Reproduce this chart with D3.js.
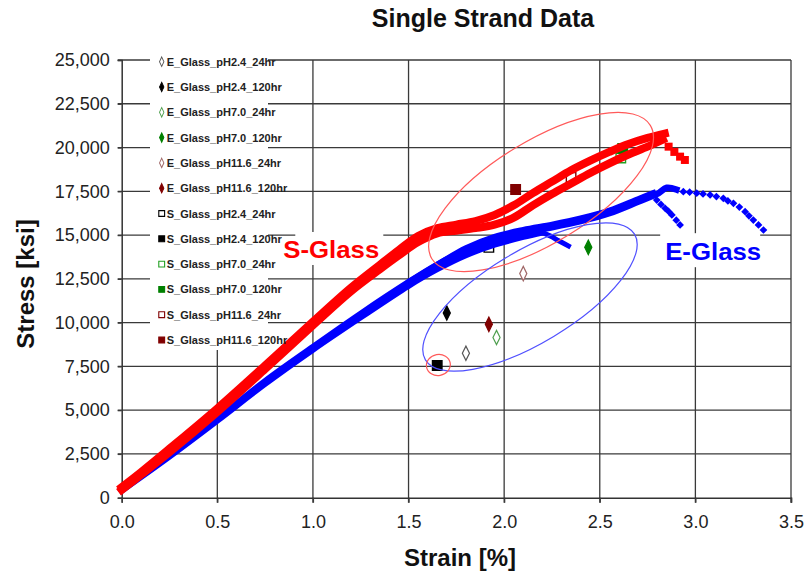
<!DOCTYPE html>
<html>
<head>
<meta charset="utf-8">
<script src="https://cdn.jsdelivr.net/npm/d3@7"></script>
<style>
  body { margin: 0; background: #fff; }
  text { font-family: "Liberation Sans", Arial, sans-serif; }
</style>
</head>
<body>
<svg id="chart" width="807" height="578"></svg>
<script>
// ---- axis ticks ----
const strainTicks = [0, 0.5, 1.0, 1.5, 2.0, 2.5, 3.0, 3.5];
const stressTicks = [0, 2500, 5000, 7500, 10000, 12500, 15000, 17500, 20000, 22500, 25000];

// ---- S-Glass stress/strain curves [strain %, stress ksi] ----
const sGlassA = [[0,600],[0.1,1450],[0.25,2800],[0.5,5100],[0.75,7550],[1.0,10050],[1.2,12000],
  [1.35,13300],[1.45,14150],[1.55,14950],[1.65,15400],[1.75,15600],[1.85,15800],[1.95,16150],
  [2.05,16700],[2.15,17400],[2.25,18050],[2.35,18700],[2.45,19250],[2.55,19750],[2.65,20200],
  [2.75,20550],[2.84,20800]];
const sGlassB = [[0,450],[0.1,1300],[0.25,2600],[0.5,4900],[0.75,7350],[1.0,9850],[1.2,11800],
  [1.35,13050],[1.45,13850],[1.55,14600],[1.65,15100],[1.75,15250],[1.85,15400],[1.95,15600],
  [2.05,16000],[2.15,16700],[2.25,17350],[2.35,17950],[2.45,18550],[2.55,19100],[2.65,19600],
  [2.75,20050],[2.83,20450]];
const sGlassTail = [[2.86,20050],[2.89,19750],[2.92,19480],[2.945,19290]];

// ---- E-Glass stress/strain curves ----
const eGlassA = [[0,450],[0.1,1250],[0.25,2450],[0.5,4500],[0.75,6650],[1.0,8600],[1.25,10500],
  [1.5,12300],[1.65,13300],[1.8,14150],[1.95,14750],[2.1,15150],[2.25,15450],[2.4,15800],
  [2.55,16250],[2.7,16900],[2.8,17350],[2.85,17700],[2.9,17600]];
const eGlassATail = [[2.937,17480],[2.97,17450],[3.007,17390],[3.04,17350],[3.077,17290],[3.11,17200],
  [3.146,17100],[3.17,16950],[3.199,16815],[3.23,16600],[3.26,16335],[3.28,16100],[3.303,15860],
  [3.33,15580],[3.356,15290]];
const eGlassB = [[0,400],[0.25,2350],[0.5,4400],[0.75,6500],[1.0,8450],[1.25,10300],[1.5,12100],
  [1.65,13050],[1.8,13850],[1.95,14450],[2.1,14900],[2.2,15150]];
const eGlassBDrop = [[2.2,15150],[2.249,14910],[2.28,14700],[2.31,14530],[2.336,14380]];
const eGlassC = [[1.5,12300],[1.65,13300],[1.8,14250],[1.95,14900],[2.1,15300],[2.25,15600],
  [2.4,15950],[2.55,16400],[2.7,17050],[2.78,17400]];
const eGlassCTail = [[2.798,17000],[2.82,16750],[2.842,16530],[2.86,16350],[2.877,16150],[2.9,15850],[2.92,15580]];

// ---- conditioned single-strand tests ----
const testNames = ["E_Glass_pH2.4_24hr","E_Glass_pH2.4_120hr","E_Glass_pH7.0_24hr","E_Glass_pH7.0_120hr",
  "E_Glass_pH11.6_24hr","E_Glass_pH11.6_120hr","S_Glass_pH2.4_24hr","S_Glass_pH2.4_120hr",
  "S_Glass_pH7.0_24hr","S_Glass_pH7.0_120hr","S_Glass_pH11.6_24hr","S_Glass_pH11.6_120hr"];
const testStrain = [1.80, 1.70, 1.96, 2.44, 2.10, 1.92, 1.92, 1.65, 2.61, 2.62, 2.35, 2.06];
const testStress = [8250, 10550, 9150, 14300, 12800, 9900, 14300, 7550, 19400, 19950, 18300, 17600];
const testShape  = ["diamond","diamond","diamond","diamond","diamond","diamond",
                    "square","square","square","square","square","square"];
const testColor  = ["#555555","#000000","#4f9f4f","#008000","#a06868","#800000",
                    "#000000","#000000","#22a022","#008000","#800000","#800000"];
const testFilled = [false,true,false,true,false,true,false,true,false,true,false,true];

// ---- layout ----
const svg = d3.select("#chart");
const x = d3.scaleLinear().domain([0, 3.5]).range([121.7, 791]);
const y = d3.scaleLinear().domain([0, 25000]).range([497.7, 60]);
const [x0, x1] = x.range();
const [y0, y1] = y.range();
const gridColor = "#3a3a3a";
const blue = "#0000ff", red = "#ff0000";

// gridlines
const grid = svg.append("g");
grid.selectAll("line.h").data(stressTicks.filter(d => d > 0)).join("line")
  .attr("class", "h")
  .attr("x1", x0 - 4).attr("x2", x1)
  .attr("y1", d => y(d)).attr("y2", d => y(d))
  .attr("stroke", gridColor).attr("stroke-width", 1.3);
grid.selectAll("line.v").data(strainTicks.filter(d => d > 0)).join("line")
  .attr("class", "v")
  .attr("x1", d => x(d)).attr("x2", d => x(d))
  .attr("y1", y1).attr("y2", y0 + 5)
  .attr("stroke", gridColor).attr("stroke-width", 1.3);

// axes
const yAxis = d3.axisLeft(y).tickValues(stressTicks).tickFormat(d3.format(",")).tickSize(4).tickPadding(8);
const xAxis = d3.axisBottom(x).tickValues(strainTicks).tickFormat(d3.format(".1f")).tickSize(5).tickPadding(13);
const gy = svg.append("g").attr("transform", `translate(${x0},0)`).call(yAxis);
const gx = svg.append("g").attr("transform", `translate(0,${y0})`).call(xAxis);
[gx, gy].forEach(g => {
  g.select(".domain").attr("stroke", "#333").attr("stroke-width", 1.5);
  g.selectAll(".tick line").attr("stroke", gridColor).attr("stroke-width", 1.3);
  g.selectAll(".tick text").attr("font-size", 18).attr("fill", "#222")
    .attr("font-family", '"Liberation Sans", Arial, sans-serif');
});

// group labels: white backing boxes sit under the data, text on top
const labels = [
  { text: "S-Glass", strain: 0.845, stress: 13692, color: red, box: [12, -26, 88, 33] },
  { text: "E-Glass", strain: 2.842, stress: 13566, color: blue, box: [-5, -27, 100, 34] }
];
labels.forEach(l => {
  svg.append("rect").attr("x", x(l.strain) + l.box[0]).attr("y", y(l.stress) + l.box[1])
    .attr("width", l.box[2]).attr("height", l.box[3]).attr("fill", "#fff");
});

// symbol helpers
function symbolPath(shape, size) {
  return d3.symbol(shape === "diamond" ? d3.symbolDiamond : d3.symbolSquare, size)();
}

// test markers
svg.append("g").selectAll("path").data(testNames.map((n, i) => i)).join("path")
  .attr("d", i => testShape[i] === "diamond" ? symbolPath("diamond", 60) : symbolPath("square", 90))
  .attr("transform", i => `translate(${x(testStrain[i])},${y(testStress[i])})${testShape[i] === "diamond" ? " scale(0.85,1)" : ""}`)
  .attr("fill", i => testFilled[i] ? testColor[i] : "#fff")
  .attr("stroke", i => testColor[i]).attr("stroke-width", 1.4);

// curves
const smooth = d3.line().x(d => x(d[0])).y(d => y(d[1])).curve(d3.curveCatmullRom.alpha(0.5));
const straight = d3.line().x(d => x(d[0])).y(d => y(d[1]));
function drawCurve(data, gen, color, w) {
  svg.append("path").datum(data).attr("d", gen).attr("fill", "none")
    .attr("stroke", color).attr("stroke-width", w)
    .attr("stroke-linejoin", "round").attr("stroke-linecap", "square");
}
drawCurve(eGlassB, smooth, blue, 6);
drawCurve(eGlassBDrop, straight, blue, 5);
drawCurve(eGlassC, smooth, blue, 6);
drawCurve(eGlassA, smooth, blue, 6.5);
svg.append("g").selectAll("path").data(eGlassATail.concat(eGlassCTail)).join("path")
  .attr("d", symbolPath("square", 30))
  .attr("transform", d => `translate(${x(d[0])},${y(d[1])}) rotate(45)`)
  .attr("fill", blue);
drawCurve(sGlassB, smooth, red, 8);
drawCurve(sGlassA, smooth, red, 8);
svg.append("g").selectAll("path").data(sGlassTail).join("path")
  .attr("d", symbolPath("square", 64))
  .attr("transform", d => `translate(${x(d[0])},${y(d[1])})`)
  .attr("fill", red);

// highlight ellipses (centre in data units, radii in px)
const ellipses = [
  { strain: 2.193, stress: 17460, rx: 128, ry: 51, angle: -31.4, color: "#ff5a5a" },
  { strain: 2.135, stress: 11464, rx: 122, ry: 46, angle: -31, color: "#5050ff" },
  { strain: 1.656, stress: 7580, rx: 12, ry: 10.5, angle: -10, color: "#ff5a5a" }
];
svg.append("g").selectAll("ellipse").data(ellipses).join("ellipse")
  .attr("cx", 0).attr("cy", 0).attr("rx", d => d.rx).attr("ry", d => d.ry)
  .attr("transform", d => `translate(${x(d.strain)},${y(d.stress)}) rotate(${d.angle})`)
  .attr("fill", "none").attr("stroke", d => d.color).attr("stroke-width", 1.2);

// group label text
labels.forEach(l => {
  svg.append("text").attr("x", x(l.strain)).attr("y", y(l.stress)).text(l.text)
    .attr("font-size", 24).attr("font-weight", "bold").attr("fill", l.color)
    .attr("textLength", 96).attr("lengthAdjust", "spacingAndGlyphs");
});

// legend
const legend = svg.append("g");
legend.append("rect").attr("x", 150).attr("y", 50).attr("width", 118).attr("height", 300).attr("fill", "#fff");
const rows = legend.selectAll("g.row").data(testNames.map((n, i) => i)).join("g")
  .attr("transform", i => `translate(161.7,${61.7 + i * 25.3})`);
rows.append("path")
  .attr("d", i => testShape[i] === "diamond" ? symbolPath("diamond", 26) : symbolPath("square", 34))
  .attr("transform", i => testShape[i] === "diamond" ? "scale(0.8,1)" : null)
  .attr("fill", i => testFilled[i] ? testColor[i] : "#fff")
  .attr("stroke", i => testColor[i]).attr("stroke-width", 1.1);
rows.append("text").attr("x", 5).attr("y", 4).text(i => testNames[i])
  .attr("font-size", 11).attr("font-weight", "bold").attr("fill", "#222");

// titles
svg.append("text").attr("x", 483).attr("y", 27).attr("text-anchor", "middle")
  .attr("font-size", 25).attr("font-weight", "bold").attr("fill", "#111").text("Single Strand Data");
svg.append("text").attr("x", 460).attr("y", 566).attr("text-anchor", "middle")
  .attr("font-size", 24).attr("font-weight", "bold").attr("fill", "#111").text("Strain [%]");
svg.append("text").attr("transform", "translate(34,284) rotate(-90)").attr("text-anchor", "middle")
  .attr("font-size", 24).attr("font-weight", "bold").attr("fill", "#111").text("Stress [ksi]");
</script>
</body>
</html>
